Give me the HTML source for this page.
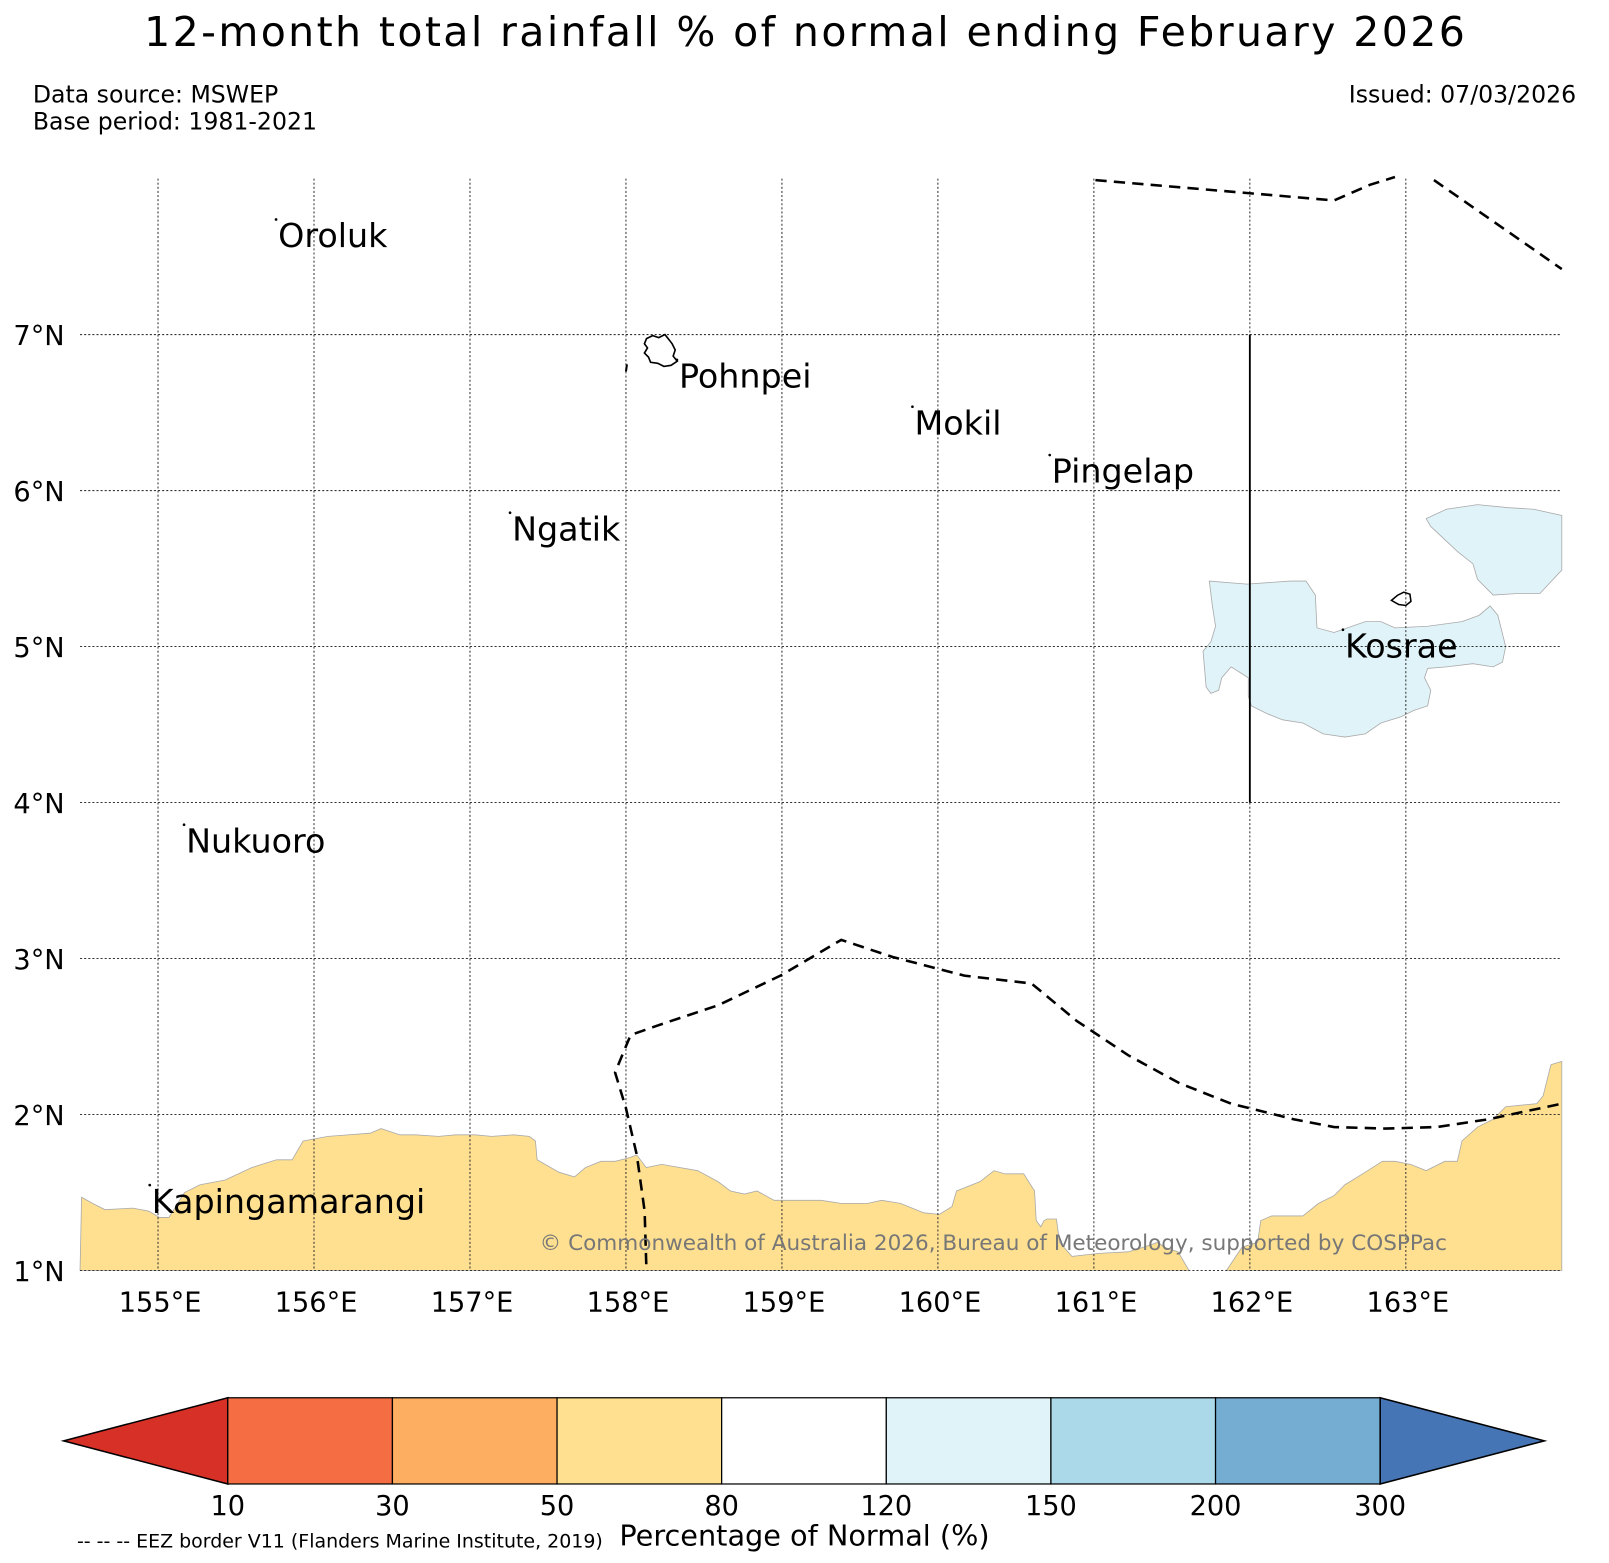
<!DOCTYPE html>
<html><head><meta charset="utf-8"><style>
html,body{margin:0;padding:0;background:#fff;}
svg{display:block;font-family:"DejaVu Sans","Liberation Sans",sans-serif;}
</style></head><body>
<svg id="chart" width="1609" height="1563" viewBox="0 0 1568 1523" preserveAspectRatio="none" xmlns="http://www.w3.org/2000/svg">
<text x="784" y="45" font-size="40" text-anchor="middle" textLength="1287">12-month total rainfall % of normal ending February 2026</text>
<text x="32" y="100" font-size="23">Data source: MSWEP</text>
<text x="32" y="126" font-size="23">Base period: 1981-2021</text>
<text x="1536" y="100" font-size="23" text-anchor="end">Issued: 07/03/2026</text>
<g id="map"></g>
<g id="cbar"></g>
<text x="784" y="1506" font-size="28" text-anchor="middle">Percentage of Normal (%)</text>
<text x="75" y="1508" font-size="18.5">-- -- -- EEZ border V11 (Flanders Marine Institute, 2019)</text>
</svg>
<script>
const lonTicks = [155,156,157,158,159,160,161,162,163];
const latTicks = [1,2,3,4,5,6,7];
// below-normal (50-80%) region, south
const dryLon1 = [154.5,154.51,154.58,154.66,154.84,154.94,155.01,155.07,155.17,155.27,155.43,155.60,155.76,155.86,155.93,156.09,156.36,156.43,156.55,156.65,156.80,156.91,157.03,157.14,157.28,157.38,157.42,157.43,157.57,157.67,157.74,157.84,157.93,158.01,158.07,158.13,158.23,158.46,158.59,158.67,158.76,158.84,158.95,159.12,159.25,159.38,159.55,159.64,159.76,159.91,160.01,160.09,160.12,160.27,160.36,160.43,160.55,160.62,160.63,160.66,160.68,160.70,160.76,160.78,160.86,161.03,161.22,161.32,161.41,161.45,161.54,161.61];
const dryLat1 = [1.0,1.47,1.43,1.39,1.40,1.38,1.34,1.34,1.50,1.55,1.58,1.66,1.71,1.71,1.83,1.86,1.88,1.91,1.87,1.87,1.86,1.87,1.87,1.86,1.87,1.86,1.83,1.71,1.63,1.60,1.66,1.70,1.70,1.72,1.74,1.66,1.68,1.64,1.57,1.51,1.49,1.51,1.45,1.45,1.45,1.43,1.43,1.45,1.43,1.37,1.36,1.41,1.51,1.57,1.64,1.62,1.62,1.51,1.32,1.28,1.32,1.33,1.33,1.18,1.09,1.11,1.12,1.15,1.18,1.15,1.12,1.0];
const dryLon2 = [161.85,161.95,162.05,162.07,162.14,162.34,162.44,162.54,162.61,162.74,162.85,162.93,163.03,163.13,163.25,163.33,163.36,163.46,163.56,163.64,163.84,163.88,163.93,164.0,164.0];
const dryLat2 = [1.0,1.15,1.18,1.32,1.35,1.35,1.43,1.48,1.55,1.63,1.70,1.70,1.68,1.64,1.70,1.70,1.83,1.92,1.97,2.05,2.07,2.12,2.32,2.34,1.0];
// above-normal (120-150%) regions near Kosrae
const wetLon1 = [161.74,161.98,162.26,162.36,162.42,162.43,162.54,162.74,162.84,162.93,163.14,163.36,163.47,163.54,163.59,163.64,163.62,163.56,163.43,163.26,163.14,163.12,163.16,163.14,163.05,162.97,162.84,162.74,162.61,162.47,162.34,162.21,162.11,162.01,161.99,161.99,161.88,161.82,161.80,161.75,161.72,161.70,161.75,161.78,161.76];
const wetLat1 = [5.42,5.40,5.42,5.42,5.33,5.12,5.09,5.16,5.16,5.12,5.13,5.16,5.20,5.26,5.20,5.00,4.90,4.87,4.89,4.87,4.86,4.80,4.72,4.62,4.59,4.55,4.51,4.44,4.42,4.44,4.51,4.53,4.57,4.62,4.68,4.80,4.87,4.80,4.72,4.70,4.74,4.97,5.03,5.13,5.26];
const wetLon2 = [163.13,163.26,163.46,163.66,163.82,164.0,164.0,163.86,163.72,163.56,163.46,163.43,163.33,163.16];
const wetLat2 = [5.82,5.88,5.91,5.89,5.88,5.84,5.49,5.34,5.34,5.33,5.43,5.53,5.61,5.77];
// EEZ borders
const eezLonA = [161.01,162.54,162.77,162.93];
const eezLatA = [7.99,7.86,7.96,8.01];
const eezLonB = [163.18,164.0];
const eezLatB = [7.99,7.42];
const eezLonC = [158.13,158.12,158.07,158.0,157.93,158.03,158.20,158.59,158.99,159.38,159.71,160.17,160.60,160.89,161.22,161.55,161.88,162.28,162.54,162.87,163.20,163.53,164.0];
const eezLatC = [1.04,1.38,1.74,2.04,2.27,2.51,2.57,2.70,2.89,3.12,3.01,2.89,2.84,2.60,2.38,2.20,2.07,1.97,1.92,1.91,1.92,1.97,2.07];
const placeNames = ["Oroluk","Pohnpei","Mokil","Pingelap","Ngatik","Nukuoro","Kosrae","Kapingamarangi"];
const placeLon = [155.77,158.34,159.85,160.73,157.27,155.18,162.61,154.96];
const placeLat = [7.56,6.66,6.36,6.05,5.68,3.68,4.93,1.37];
const cbBounds = ["10","30","50","80","120","150","200","300"];
const cbColors = ["#d73027","#f46d43","#fdae61","#fee090","#ffffff","#e0f3f8","#abd9e9","#74add1","#4575b4"];

const NS="http://www.w3.org/2000/svg";
const X = lon => 78 + (lon-154.5)*152;
const Y = lat => 174 + (8-lat)*152;
function mk(tag, attrs, parent){const e=document.createElementNS(NS,tag);for(const k in attrs)e.setAttribute(k,attrs[k]);parent.appendChild(e);return e;}
const map=document.getElementById('map');
const pts=(lo,la)=>lo.map((v,i)=>X(v).toFixed(1)+','+Y(la[i]).toFixed(1)).join(' ');

let p=mk('polygon',{points:pts(dryLon1,dryLat1),fill:'#fee090',stroke:'#aaa','stroke-width':0.8},map);


p=mk('polygon',{points:pts(dryLon2,dryLat2),fill:'#fee090',stroke:'#aaa','stroke-width':0.8},map);


p=mk('polygon',{points:pts(wetLon1,wetLat1),fill:'#e0f3f8',stroke:'#aaa','stroke-width':0.8},map);


p=mk('polygon',{points:pts(wetLon2,wetLat2),fill:'#e0f3f8',stroke:'#aaa','stroke-width':0.8},map);



// gridlines
lonTicks.forEach(l=>{
  const g=mk('line',{x1:X(l),x2:X(l),y1:Y(8),y2:Y(1),stroke:'#333','stroke-width':1,'stroke-dasharray':'2,2'},map);
  
  
  const t=mk('text',{x:X(l)+2,y:1278,'font-size':26.5,'text-anchor':'middle'},map);t.textContent=l+'°E';
  
  
});
latTicks.forEach(l=>{
  const g=mk('line',{x1:X(154.5),x2:X(164),y1:Y(l),y2:Y(l),stroke:'#333','stroke-width':1,'stroke-dasharray':'2,2'},map);
  
  
  const t=mk('text',{x:63,y:Y(l)+10,'font-size':26.5,'text-anchor':'end'},map);t.textContent=l+'°N';
  
  
});

// EEZ lines
[[eezLonA,eezLatA],[eezLonB,eezLatB],[eezLonC,eezLatC]].forEach(a=>{
  const l=mk('polyline',{points:pts(a[0],a[1]),fill:'none',stroke:'#000','stroke-width':2.5,'stroke-dasharray':'11,7'},map);
  
  
});
let v=mk('line',{x1:X(162),x2:X(162),y1:Y(7),y2:Y(4),stroke:'#000','stroke-width':1.8},map);


v=mk('line',{x1:611,x2:610,y1:355,y2:362,stroke:'#000','stroke-width':2},map);



// islands
let isl=mk('path',{d:'M630,330 L636,327 L642,329 L648,326 L652,331 L655,335 L658,341 L656,347 L660,352 L654,356 L647,357 L641,354 L634,353 L632,348 L628,344 L631,339 L628,335 Z',fill:'none',stroke:'#000','stroke-width':1.6},map);


isl=mk('path',{d:'M1356,585 L1362,580 L1368,577 L1374,579 L1375,586 L1370,590 L1363,589 Z',fill:'none',stroke:'#000','stroke-width':1.5},map);



placeNames.forEach((n,i)=>{
  const t=mk('text',{x:X(placeLon[i]),y:Y(placeLat[i]),'font-size':32.5},map);t.textContent=n;
  
  
  const d=mk('circle',{cx:X(placeLon[i])-2,cy:Y(placeLat[i])-27,r:1.3,fill:'#000'},map);
  
  
});

const c=mk('text',{x:968,y:1218,'font-size':21,'text-anchor':'middle',fill:'#777'},map);
c.textContent='© Commonwealth of Australia 2026, Bureau of Meteorology, supported by COSPPac';



// colorbar
const cb=document.getElementById('cbar');
const cx0=222,cx1=1345,cyT=1362,cyB=1446,seg=(cx1-cx0)/(cbBounds.length-1);
let a=mk('polygon',{points:`62,${(cyT+cyB)/2} ${cx0},${cyT} ${cx0},${cyB}`,fill:cbColors[0],stroke:'#000','stroke-width':1.5},cb);


for(let i=0;i<cbBounds.length-1;i++){
  const r=mk('rect',{x:cx0+i*seg,y:cyT,width:seg,height:cyB-cyT,fill:cbColors[i+1],stroke:'#000','stroke-width':1.2},cb);
  
  
}
a=mk('polygon',{points:`1505,${(cyT+cyB)/2} ${cx1},${cyT} ${cx1},${cyB}`,fill:cbColors[8],stroke:'#000','stroke-width':1.5},cb);


cbBounds.forEach((b,i)=>{
  const t=mk('text',{x:cx0+i*seg,y:1476,'font-size':26.5,'text-anchor':'middle'},cb);t.textContent=b;
  
  
});
</script>
</body></html>
